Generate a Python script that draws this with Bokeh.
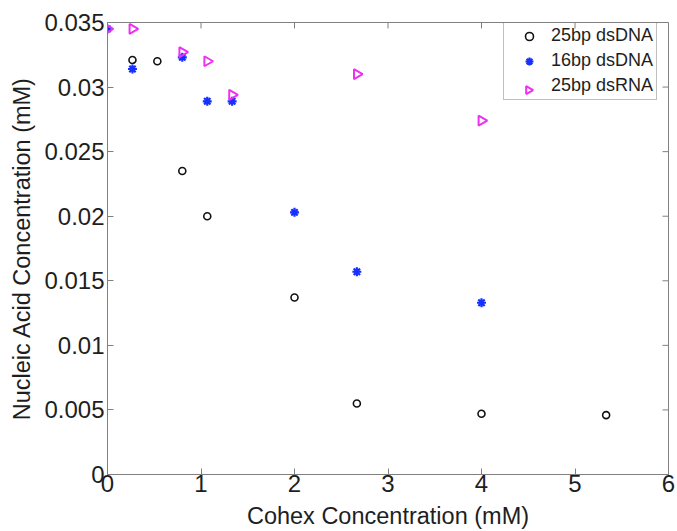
import numpy as np
from bokeh.plotting import figure
from bokeh.models import Range1d, FixedTicker, Legend, LegendItem
from bokeh.embed import file_html
from bokeh.resources import INLINE

# ---- data ----
x_25dna = [0.267, 0.533, 0.8, 1.067, 2.0, 2.667, 4.0, 5.333]
y_25dna = [0.0321, 0.0320, 0.0235, 0.0200, 0.0137, 0.0055, 0.0047, 0.0046]

x_16dna = [0.0, 0.267, 0.8, 1.067, 1.333, 2.0, 2.667, 4.0]
y_16dna = [0.0345, 0.0314, 0.0323, 0.0289, 0.0289, 0.0203, 0.0157, 0.0133]

x_25rna = [0.0, 0.267, 0.8, 1.067, 1.333, 2.667, 4.0]
y_25rna = [0.0345, 0.0345, 0.0327, 0.0320, 0.0294, 0.0310, 0.0274]

series_names = ["25bp dsDNA", "16bp dsDNA", "25bp dsRNA"]

x_ticks = [0, 1, 2, 3, 4, 5, 6]
x_tick_labels = ["0", "1", "2", "3", "4", "5", "6"]
y_ticks = [0, 0.005, 0.01, 0.015, 0.02, 0.025, 0.03, 0.035]
y_tick_labels = ["0", "0.005", "0.01", "0.015", "0.02", "0.025", "0.03", "0.035"]

x_label = "Cohex Concentration (mM)"
y_label = "Nucleic Acid Concentration (mM)"

X_MIN, X_MAX = 0, 6
Y_MIN, Y_MAX = 0, 0.035

FONT = "Liberation Sans"
GRAY = "#808080"
TXT = "#1e1e1e"
BLACK_C = "#111111"
BLUE_C = "#1530ff"
MAG_C = "#f030f0"
TICK_PX = 6
FRAME_W, FRAME_H = 561, 455

# legend layout (frame pixels, origin bottom-left)
LEG_X, LEG_Y = 396, 374
LEG_PAD, LEG_SPACING = 3, 4
LEG_GLYPH_W, LEG_ROW_H = 44, 20

p = figure(width=677, height=531,
           x_range=Range1d(X_MIN, X_MAX), y_range=Range1d(Y_MIN, Y_MAX),
           output_backend="svg", toolbar_location=None,
           min_border_left=107, min_border_right=9,
           min_border_top=22, min_border_bottom=54)
p.extra_x_ranges = {"px": Range1d(0, FRAME_W)}
p.extra_y_ranges = {"px": Range1d(0, FRAME_H)}

p.xgrid.visible = False
p.ygrid.visible = False
p.outline_line_color = GRAY
p.background_fill_color = "white"

def style_axis(ax, ticks, labels):
    ax.ticker = FixedTicker(ticks=ticks)
    ax.major_label_overrides = {t: l for t, l in zip(ticks, labels)}
    ax.minor_tick_line_color = None
    ax.major_tick_in = TICK_PX
    ax.major_tick_out = 0
    ax.major_tick_line_color = GRAY
    ax.axis_line_color = GRAY
    ax.major_label_text_font = FONT
    ax.major_label_text_color = TXT
    ax.major_label_text_font_size = "24px"
    ax.axis_label_text_font = FONT
    ax.axis_label_text_font_size = "23.5px"
    ax.axis_label_text_font_style = "normal"
    ax.axis_label_text_color = TXT

xa = p.xaxis[0]
style_axis(xa, x_ticks, x_tick_labels)
xa.major_label_standoff = 0
xa.axis_label = x_label
xa.axis_label_standoff = 8

ya = p.yaxis[0]
style_axis(ya, y_ticks, y_tick_labels)
ya.major_label_standoff = 3
ya.axis_label = y_label
ya.axis_label_standoff = 6

# inward ticks on the top and right edges of the box (MATLAB "box on")
ty = (Y_MAX - Y_MIN) * TICK_PX / FRAME_H
tx = (X_MAX - X_MIN) * TICK_PX / FRAME_W
p.segment(x0=x_ticks, y0=[Y_MAX] * len(x_ticks), x1=x_ticks,
          y1=[Y_MAX - ty] * len(x_ticks), line_color=GRAY, line_width=1)
p.segment(x0=[X_MAX] * len(y_ticks), y0=y_ticks, x1=[X_MAX - tx] * len(y_ticks),
          y1=y_ticks, line_color=GRAY, line_width=1)

r1 = p.scatter(x_25dna, y_25dna, marker="circle", size=7, fill_color=None,
               line_color=BLACK_C, line_width=1.6)
r2 = p.scatter(x_16dna, y_16dna, marker="asterisk", size=9, line_color=BLUE_C,
               line_width=2.2)
rna_angle = [-np.pi / 2] * len(x_25rna)
r3 = p.scatter(x=x_25rna, y=y_25rna, angle=rna_angle, marker="triangle", size=10,
               fill_color=None, line_color=MAG_C, line_width=2.0)

# Bokeh legends never rotate markers, so the legend entry for the RNA series
# uses an invisible stand-in; the right-pointing key symbol is drawn beneath a
# transparent legend box.
r3_key = p.scatter(x=[], y=[], marker="triangle", fill_alpha=0, line_alpha=0)

leg_h = 2 * LEG_PAD + 3 * LEG_ROW_H + 2 * LEG_SPACING
key_x = LEG_X + LEG_PAD + LEG_GLYPH_W / 2
key_y = LEG_Y + leg_h - LEG_PAD - 2 * (LEG_ROW_H + LEG_SPACING) - LEG_ROW_H / 2
p.scatter(x=[key_x], y=[key_y], angle=[-np.pi / 2], marker="triangle", size=8,
          fill_color=None, line_color=MAG_C, line_width=2.0,
          x_range_name="px", y_range_name="px")

legend = Legend(items=[LegendItem(label=series_names[0], renderers=[r1]),
                       LegendItem(label=series_names[1], renderers=[r2]),
                       LegendItem(label=series_names[2], renderers=[r3_key])],
                location=(LEG_X, LEG_Y))
legend.margin = 0
legend.padding = LEG_PAD
legend.spacing = LEG_SPACING
legend.glyph_width = LEG_GLYPH_W
legend.glyph_height = LEG_ROW_H
legend.label_height = LEG_ROW_H
legend.label_standoff = 0
legend.label_text_font = FONT
legend.label_text_font_size = "18px"
legend.label_text_color = TXT
legend.border_line_color = GRAY
legend.border_line_width = 1
legend.background_fill_alpha = 0.0
p.add_layout(legend, "center")

open("out.html", "w").write(file_html(p, INLINE))
